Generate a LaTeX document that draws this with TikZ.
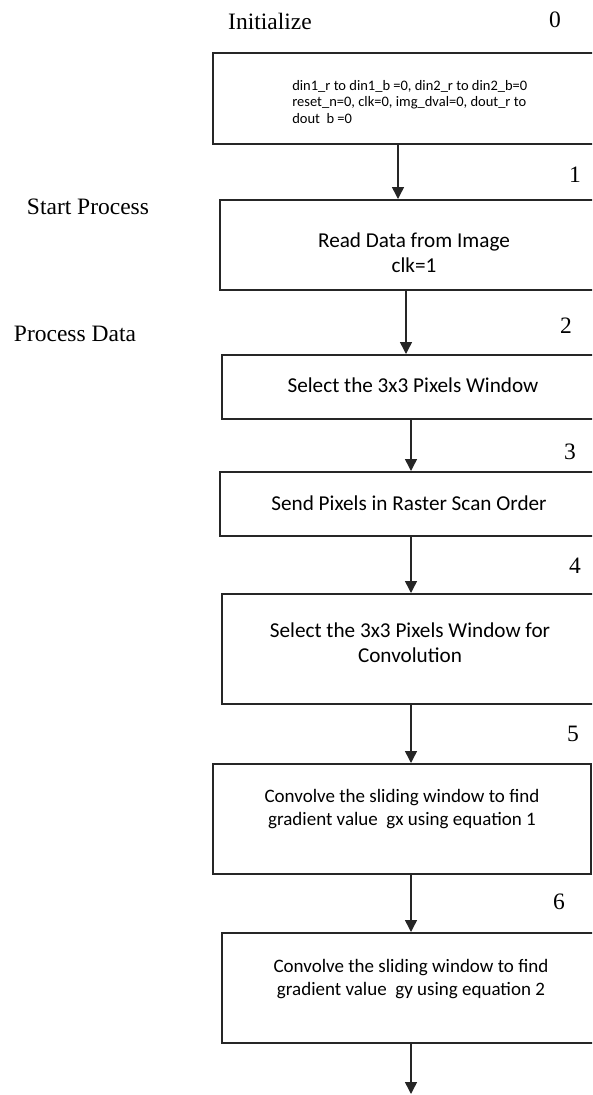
\documentclass[tikz,border=0pt]{standalone}
\usepackage{fontspec}
\setmainfont{Liberation Serif}
\newfontfamily\calibri{Carlito}
\usetikzlibrary{arrows.meta,positioning}

\begin{document}
\begin{tikzpicture}[x=1pt,y=-1pt,>={Triangle[length=12pt,width=12pt]},semithick]
  \tikzstyle{blk}=[draw=black!85,line width=1.8pt,anchor=north west,inner sep=0pt]
  \tikzstyle{txt}=[font=\calibri\fontsize{21.2}{25}\selectfont,align=center,inner sep=0pt]
  \tikzstyle{smalltxt}=[font=\calibri\fontsize{14.5}{16.5}\selectfont,align=left,anchor=west,inner sep=0pt]
  \tikzstyle{convtxt}=[font=\calibri\fontsize{19}{22.5}\selectfont,align=center,inner sep=0pt]
  \tikzstyle{lbl}=[font=\fontsize{23.5}{28}\selectfont,inner sep=0pt]
  \tikzstyle{arr}=[->,line width=1.5pt,draw=black!85]

  \useasboundingbox (0,0) rectangle (592,1095);
  \clip (0,0) rectangle (592,1095);

  % side labels and step numbers
  \node[lbl] (init)  at (270,21)  {Initialize};
  \node[lbl] (start) at (88,207)  {Start Process};
  \node[lbl] (proc)  at (75,334)  {Process Data};
  \node[lbl] (n0) at (555,20)  {0};
  \node[lbl] (n1) at (575,175) {1};
  \node[lbl] (n2) at (566,326) {2};
  \node[lbl] (n3) at (570,452) {3};
  \node[lbl] (n4) at (575,566) {4};
  \node[lbl] (n5) at (573,734) {5};
  \node[lbl] (n6) at (559,902) {6};

  % boxes
  \node[blk,minimum width=440,minimum height=91] (b0) at (212,52)  {};
  \node[blk,minimum width=440,minimum height=90] (b1) at (219,199) {};
  \node[blk,minimum width=440,minimum height=64] (b2) at (221,354) {};
  \node[blk,minimum width=440,minimum height=64] (b3) at (219,471) {};
  \node[blk,minimum width=440,minimum height=110] (b4) at (221,593) {};
  \node[blk,minimum width=378,minimum height=110] (b5) at (212,763) {};
  \node[blk,minimum width=440,minimum height=110] (b6) at (221,932) {};

  % box texts
  \node[smalltxt] (t0) at (292,102) {din1\_r to din1\_b =0, din2\_r to din2\_b=0\\
    reset\_n=0, clk=0, img\_dval=0, dout\_r to\\ dout~ b =0};
  \node[txt] (t1) at (414,253) {Read Data from Image\\clk=1};
  \node[txt] (t2) at (413,385) {Select the 3x3 Pixels Window};
  \node[txt] (t3) at (409,503) {Send Pixels in Raster Scan Order};
  \node[txt] (t4) at (410,643) {Select the 3x3 Pixels Window for\\Convolution};
  \node[convtxt] (t5) at (402,809) {Convolve the sliding window to find\\
    gradient value~ gx using equation 1};
  \node[convtxt] (t6) at (411,979) {Convolve the sliding window to find\\
    gradient value~ gy using equation 2};

  % arrow columns
  \coordinate (c1) at (398,0);
  \coordinate (c2) at (406,0);
  \coordinate (c3) at (411,0);
  \coordinate (c4) at (411,0);
  \coordinate (c5) at (411,0);
  \coordinate (c6) at (411,0);
  \coordinate (end) at (411,1094);

  \draw[arr] (b0.south -| c1) -- (b1.north -| c1);
  \draw[arr] (b1.south -| c2) -- (b2.north -| c2);
  \draw[arr] (b2.south -| c3) -- (b3.north -| c3);
  \draw[arr] (b3.south -| c4) -- (b4.north -| c4);
  \draw[arr] (b4.south -| c5) -- (b5.north -| c5);
  \draw[arr] (b5.south -| c6) -- (b6.north -| c6);
  \draw[arr] (b6.south -| end) -- (end);
\end{tikzpicture}
\end{document}
